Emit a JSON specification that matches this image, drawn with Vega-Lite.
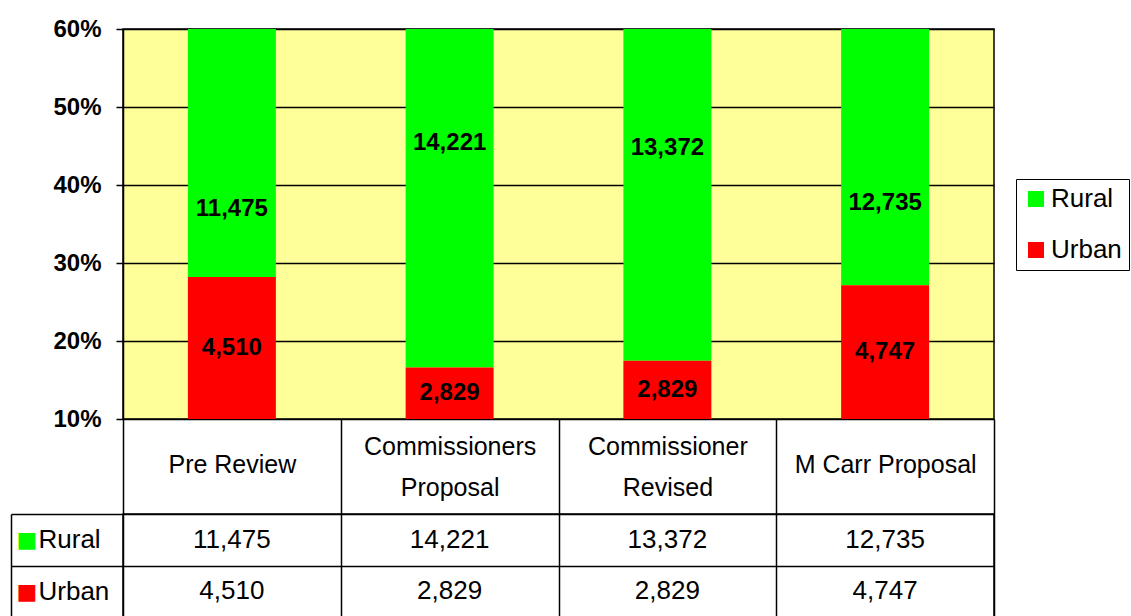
{
  "$schema": "https://vega.github.io/schema/vega-lite/v6.json",
  "background": "white",
  "padding": {"left": 9, "top": 16, "right": 0, "bottom": 0},
  "spacing": 95,
  "bounds": "flush",
  "config": {
    "font": "Liberation Sans",
    "view": {"stroke": "black", "strokeWidth": 1.5},
    "legend": {"layout": {"right": {"anchor": "middle"}}}
  },
  "datasets": {
    "d": [
      {"category": "Pre Review", "type": "Rural", "value": 11475},
      {"category": "Pre Review", "type": "Urban", "value": 4510},
      {"category": "Commissioners Proposal", "type": "Rural", "value": 14221},
      {"category": "Commissioners Proposal", "type": "Urban", "value": 2829},
      {"category": "Commissioner Revised", "type": "Rural", "value": 13372},
      {"category": "Commissioner Revised", "type": "Urban", "value": 2829},
      {"category": "M Carr Proposal", "type": "Rural", "value": 12735},
      {"category": "M Carr Proposal", "type": "Urban", "value": 4747}
    ]
  },
  "resolve": {"scale": {"color": "independent", "y": "independent"}, "legend": {"color": "independent"}},
  "vconcat": [
    {
      "width": 871,
      "height": 390,
      "view": {"fill": "#FFFF99", "stroke": "black", "strokeWidth": 1.5},
      "data": {"name": "d"},
      "transform": [
        {"calculate": "datum.type === 'Urban' ? 0 : 1", "as": "ord"},
        {"stack": "value", "groupby": ["category"], "sort": [{"field": "ord", "order": "ascending"}], "offset": "normalize", "as": ["v0", "v1"]},
        {"calculate": "datum.type === 'Urban' ? (0.1 + datum.v1) / 2 : 0.576 - 0.733 * datum.v0", "as": "mid"}
      ],
      "encoding": {
        "x": {
          "field": "category", "type": "nominal",
          "sort": ["Pre Review", "Commissioners Proposal", "Commissioner Revised", "M Carr Proposal"],
          "scale": {"paddingInner": 0, "paddingOuter": 0},
          "axis": null
        }
      },
      "layer": [
        {
          "mark": {"type": "bar", "width": {"band": 0.404}, "clip": true},
          "encoding": {
            "y": {
              "field": "v0", "type": "quantitative",
              "scale": {"domain": [0.1, 0.6], "nice": false, "zero": false},
              "axis": {
                "title": null, "values": [0.1, 0.2, 0.3, 0.4, 0.5, 0.6], "format": ".0%",
                "labelFont": "Liberation Sans", "labelFontWeight": "bold", "labelFontSize": 24, "labelColor": "black",
                "labelPadding": 15, "tickSize": 7, "tickColor": "black", "tickWidth": 1.5,
                "domainColor": "black", "domainWidth": 1.5,
                "grid": true, "gridColor": "black", "gridWidth": 1.5, "gridOpacity": 1
              }
            },
            "y2": {"field": "v1"},
            "color": {
              "field": "type", "type": "nominal",
              "scale": {"domain": ["Rural", "Urban"], "range": ["#00FF00", "#FF0000"]},
              "legend": {
                "title": null, "orient": "right", "offset": 22, "symbolType": "square", "symbolSize": 256,
                "symbolStrokeWidth": 0, "labelFontSize": 26, "labelColor": "black", "labelOffset": 2,
                "strokeColor": "black", "fillColor": "white", "padding": 7, "rowPadding": 25
              }
            }
          }
        },
        {
          "mark": {"type": "text", "fontWeight": "bold", "fontSize": 24, "color": "black", "baseline": "middle"},
          "encoding": {
            "y": {"field": "mid", "type": "quantitative"},
            "text": {"field": "value", "type": "quantitative", "format": ","}
          }
        }
      ]
    },
    {
      "width": 871,
      "height": 103,
      "view": {"stroke": "black", "strokeWidth": 1.5},
      "data": {"name": "d"},
      "resolve": {"scale": {"y": "independent"}},
      "layer": [
        {
          "mark": {"type": "text", "fontSize": 26, "color": "black", "baseline": "middle"},
          "encoding": {
            "x": {
              "field": "category", "type": "nominal",
              "sort": ["Pre Review", "Commissioners Proposal", "Commissioner Revised", "M Carr Proposal"],
              "scale": {"paddingInner": 0, "paddingOuter": 0},
              "axis": {
                "orient": "top", "title": null, "tickBand": "extent", "tickSize": 95, "tickColor": "black", "tickWidth": 1.5,
                "domain": false, "grid": true, "gridColor": "black", "gridWidth": 1.5, "gridOpacity": 1,
                "labelFontSize": 25, "labelColor": "black", "labelBaseline": "middle", "labelAngle": 0,
                "labelPadding": {"condition": {"test": "test(/^Commission/, datum.value)", "value": -27}, "value": -45},
                "labelLimit": 0, "labelLineHeight": 41,
                "labelExpr": "test(/^Commission/, datum.label) ? split(datum.label, ' ') : datum.label"
              }
            },
            "y": {
              "field": "type", "type": "nominal", "sort": ["Rural", "Urban"],
              "scale": {"paddingInner": 0, "paddingOuter": 0},
              "axis": {
                "orient": "left", "title": null, "offset": 112, "domain": true, "domainColor": "black", "domainWidth": 1.5,
                "tickBand": "extent", "tickSize": -112, "tickColor": "black", "tickWidth": 1.5,
                "grid": true, "gridColor": "black", "gridWidth": 1.5, "gridOpacity": 1,
                "labelFontSize": 26, "labelColor": "black", "labelAlign": "left", "labelPadding": 85, "labelBaseline": "middle"
              }
            },
            "text": {"field": "value", "type": "quantitative", "format": ","}
          }
        },
        {
          "mark": {"type": "point", "opacity": 0},
          "encoding": {
            "y": {
              "field": "type", "type": "nominal", "sort": ["Rural", "Urban"],
              "scale": {"paddingInner": 0, "paddingOuter": 0},
              "axis": {
                "orient": "left", "title": null, "offset": 112, "domain": false, "ticks": false, "grid": false,
                "labelExpr": "'■'", "labelFont": "DejaVu Sans", "labelFontSize": 22,
                "labelColor": {"condition": {"test": "datum.value === 'Rural'", "value": "#00FF00"}, "value": "#FF0000"},
                "labelAlign": "left", "labelPadding": -5, "labelBaseline": "middle"
              }
            }
          }
        }
      ]
    }
  ]
}
